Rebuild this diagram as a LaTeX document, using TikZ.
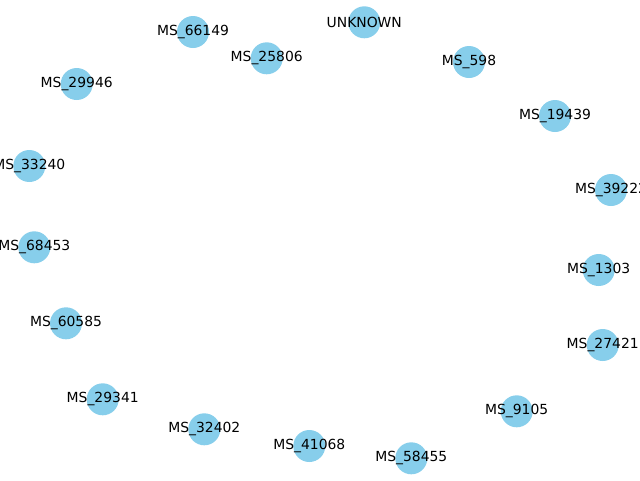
\documentclass[tikz,border=0pt]{standalone}
\usepackage{fontspec}
\setmainfont{DejaVu Sans}
\definecolor{skyblue}{HTML}{87CEEB}
\tikzset{
  msnode/.style={circle, fill=skyblue, minimum size=32pt, inner sep=0pt},
  mslabel/.style={inner sep=0pt, font=\fontsize{13.9pt}{16pt}\selectfont, text=black}
}
\begin{document}
\begin{tikzpicture}[x=1pt,y=-1pt]
\useasboundingbox (0,0) rectangle (640,480);
\clip (0,0) rectangle (640,480);
\foreach \nm/\lb/\px/\py in {
  unk/UNKNOWN/364.3/22.3,
  a66149/MS\_66149/193/32,
  a25806/MS\_25806/266.7/58.3,
  a598/MS\_598/469/62,
  a29946/MS\_29946/76.7/84,
  a19439/MS\_19439/555/116,
  a33240/MS\_33240/29.3/166,
  a39222/MS\_39222/611/190,
  a68453/MS\_68453/34.3/247.3,
  a1303/MS\_1303/598.7/270,
  a60585/MS\_60585/66/323.3,
  a27421/MS\_27421/602.7/345,
  a29341/MS\_29341/102.7/399.3,
  a9105/MS\_9105/516.7/411.3,
  a32402/MS\_32402/204.3/429.3,
  a41068/MS\_41068/309.3/446,
  a58455/MS\_58455/411.3/458.3}
{
  \node[msnode] (\nm) at (\px,\py) {};
  \node[mslabel] (\nm-l) at (\nm.center) {\lb};
}
\end{tikzpicture}
\end{document}
